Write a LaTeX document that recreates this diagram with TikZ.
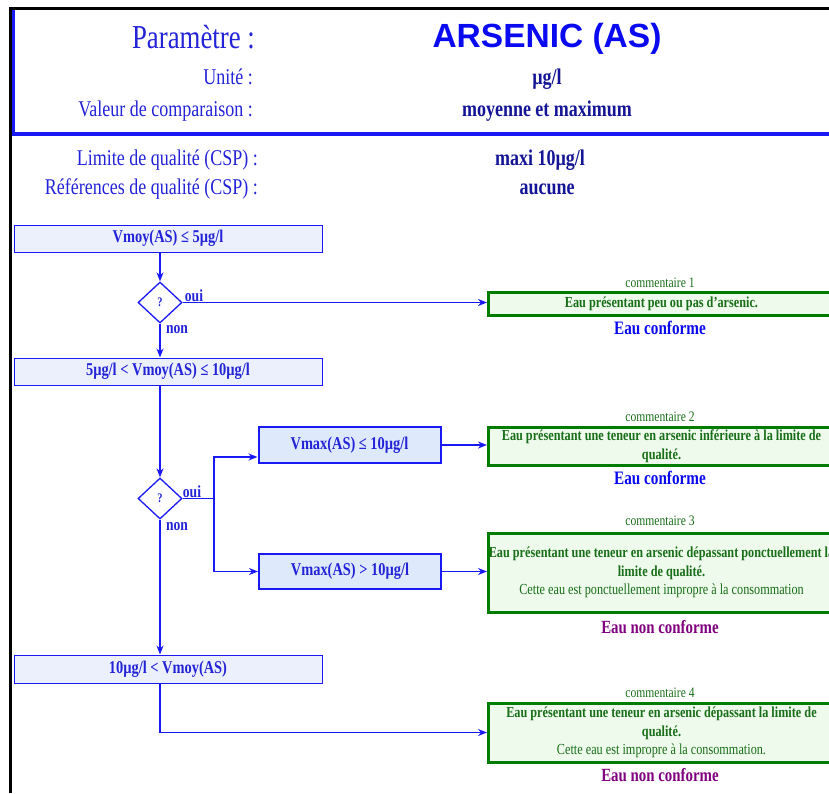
\documentclass[tikz,border=0pt]{standalone}
\usepackage{fontspec}
\setmainfont{Liberation Serif}[FakeStretch=0.8]
\newfontfamily\titlefont{Liberation Sans}
\usetikzlibrary{shapes.geometric,arrows.meta}
\definecolor{lineblue}{RGB}{25,25,245}
\definecolor{textblue}{RGB}{35,35,215}
\definecolor{valblue}{RGB}{20,20,150}
\definecolor{brightblue}{RGB}{10,10,240}
\definecolor{boxfill}{RGB}{236,240,252}
\definecolor{vfill}{RGB}{222,234,252}
\definecolor{greenline}{RGB}{0,125,0}
\definecolor{greentext}{RGB}{25,110,25}
\definecolor{greenfill}{RGB}{238,250,236}
\definecolor{purp}{RGB}{128,0,128}
\newcommand{\fs}[1]{\fontsize{#1}{1.2\dimexpr#1pt\relax}\selectfont}
\begin{document}
\begin{tikzpicture}[x=1pt,y=-1pt,
  hlabel/.style={anchor=base east,text=textblue,inner sep=0,font=\fs{22.5}},
  hval/.style={anchor=base,text=valblue,inner sep=0,font=\bfseries\fs{22.5}},
  cond/.style={draw=lineblue,line width=1pt,fill=boxfill,minimum width=308pt,minimum height=27pt,inner sep=0pt,text=textblue,font=\bfseries\fs{18}},
  vbox/.style={draw=lineblue,line width=2pt,fill=vfill,minimum width=182pt,minimum height=36pt,inner sep=0pt,text=textblue,font=\bfseries\fs{18}},
  dec/.style={diamond,draw=lineblue,line width=1.3pt,minimum width=44pt,minimum height=41pt,inner sep=0pt,text=textblue,font=\bfseries\fs{13}},
  com/.style={draw=greenline,line width=3pt,fill=greenfill,minimum width=346pt,anchor=west,inner sep=0pt,align=center,text=greentext,font=\bfseries\fontsize{15.3}{18.5}\selectfont},
  comlbl/.style={text=greentext,inner sep=0,font=\fs{14.5}},
  ok/.style={text=brightblue,inner sep=0,font=\bfseries\fs{19}},
  nok/.style={text=purp,inner sep=0,font=\bfseries\fs{18.6}},
  yn/.style={text=textblue,inner sep=0,font=\bfseries\fs{17}},
  arr/.style={draw=lineblue,line width=1.5pt,-{Stealth[length=9pt,width=7pt]}},
  ln/.style={draw=lineblue,line width=1.5pt}]
\useasboundingbox (0,0) rectangle (829,793);
\clip (0,0) rectangle (829,793);
% frame
\draw[black,line width=3pt] (10.5,8.5) -- (829,8.5);
\draw[black,line width=3pt] (10.5,7) -- (10.5,793);
\draw[lineblue,line width=3pt] (13.5,10) -- (13.5,136);
\draw[lineblue,line width=4pt] (12,134) -- (829,134);
% header
\node[anchor=base east,text=textblue,inner sep=0,font=\fs{33.5}] (hp) at (255,48) {Paramètre :};
\node[anchor=base,text=brightblue,inner sep=0,font=\titlefont\bfseries\fs{33.5}] (ht) at (547,47) {ARSENIC (AS)};
\node[hlabel] (hu) at (253,84) {Unité :};
\node[hval] (vu) at (547,84) {µg/l};
\node[hlabel] (hv) at (253,116) {Valeur de comparaison :};
\node[hval] (vv) at (547,116) {moyenne et maximum};
\node[hlabel] (hl) at (258,165) {Limite de qualité (CSP) :};
\node[hval] (vl) at (540,165) {maxi 10µg/l};
\node[hlabel] (hr) at (258,194) {Références de qualité (CSP) :};
\node[hval] (vr) at (547,194) {aucune};
% flow
\node[cond] (b1) at (168,238.5) {Vmoy(AS) ≤ 5µg/l};
\node[dec] (d1) at (160,302.5) {?};
\node[cond] (b2) at (168,371.5) {5µg/l < Vmoy(AS) ≤ 10µg/l};
\node[dec] (d2) at (160,498.5) {?};
\node[vbox] (v1) at (349.5,445) {Vmax(AS) ≤ 10µg/l};
\node[vbox,minimum height=35pt] (v2) at (350,571.5) {Vmax(AS) > 10µg/l};
\node[cond,minimum height=28pt] (b3) at (168,669) {10µg/l < Vmoy(AS)};
\coordinate (j1) at (214,498.5);
% comments
\node[com,minimum height=23pt] (c1) at (487,303.5) {Eau présentant peu ou pas d'arsenic.};
\node[com,minimum height=38pt] (c2) at (487,446) {Eau présentant une teneur en arsenic inférieure à la limite de\\qualité.};
\node[com,minimum height=79pt] (c3) at (487,572.5) {Eau présentant une teneur en arsenic dépassant ponctuellement la\\limite de qualité.\\{\mdseries Cette eau est ponctuellement impropre à la consommation}};
\node[com,minimum height=59pt] (c4) at (487,732.5) {Eau présentant une teneur en arsenic dépassant la limite de\\qualité.\\{\mdseries Cette eau est impropre à la consommation.}};
\node[comlbl] (l1) at (660,283) {commentaire 1};
\node[comlbl] (l2) at (660,417) {commentaire 2};
\node[comlbl] (l3) at (660,521) {commentaire 3};
\node[comlbl] (l4) at (660,693) {commentaire 4};
\node[ok] (r1) at (660,328) {Eau conforme};
\node[ok] (r2) at (660,478) {Eau conforme};
\node[nok] (r3) at (660,627) {Eau non conforme};
\node[nok] (r4) at (660,775) {Eau non conforme};
% yes/no labels
\node[yn] (o1) at (194,296) {oui};
\node[yn] (n1) at (177,330) {non};
\node[yn] (o2) at (192,492) {oui};
\node[yn] (n2) at (177,527) {non};
% connectors
\draw[arr] (b1.south -| d1.north) -- (d1.north);
\draw[arr] (d1.east) -- (d1.east -| c1.west);
\draw[arr] (d1.south) -- (d1.south |- b2.north);
\draw[arr] (b2.south -| d2.north) -- (d2.north);
\draw[ln] (d2.east) -- (j1);
\draw[arr] (j1) |- ([yshift=-12pt]v1.west);
\draw[arr] (j1) |- (v2.west);
\draw[arr] (v1.east) -- (v1.east -| c2.west);
\draw[arr] (v2.east) -- (v2.east -| c3.west);
\draw[arr] (d2.south) -- (d2.south |- b3.north);
\draw[arr] (b3.south -| d2.south) |- (c4.west);
\end{tikzpicture}
\end{document}
